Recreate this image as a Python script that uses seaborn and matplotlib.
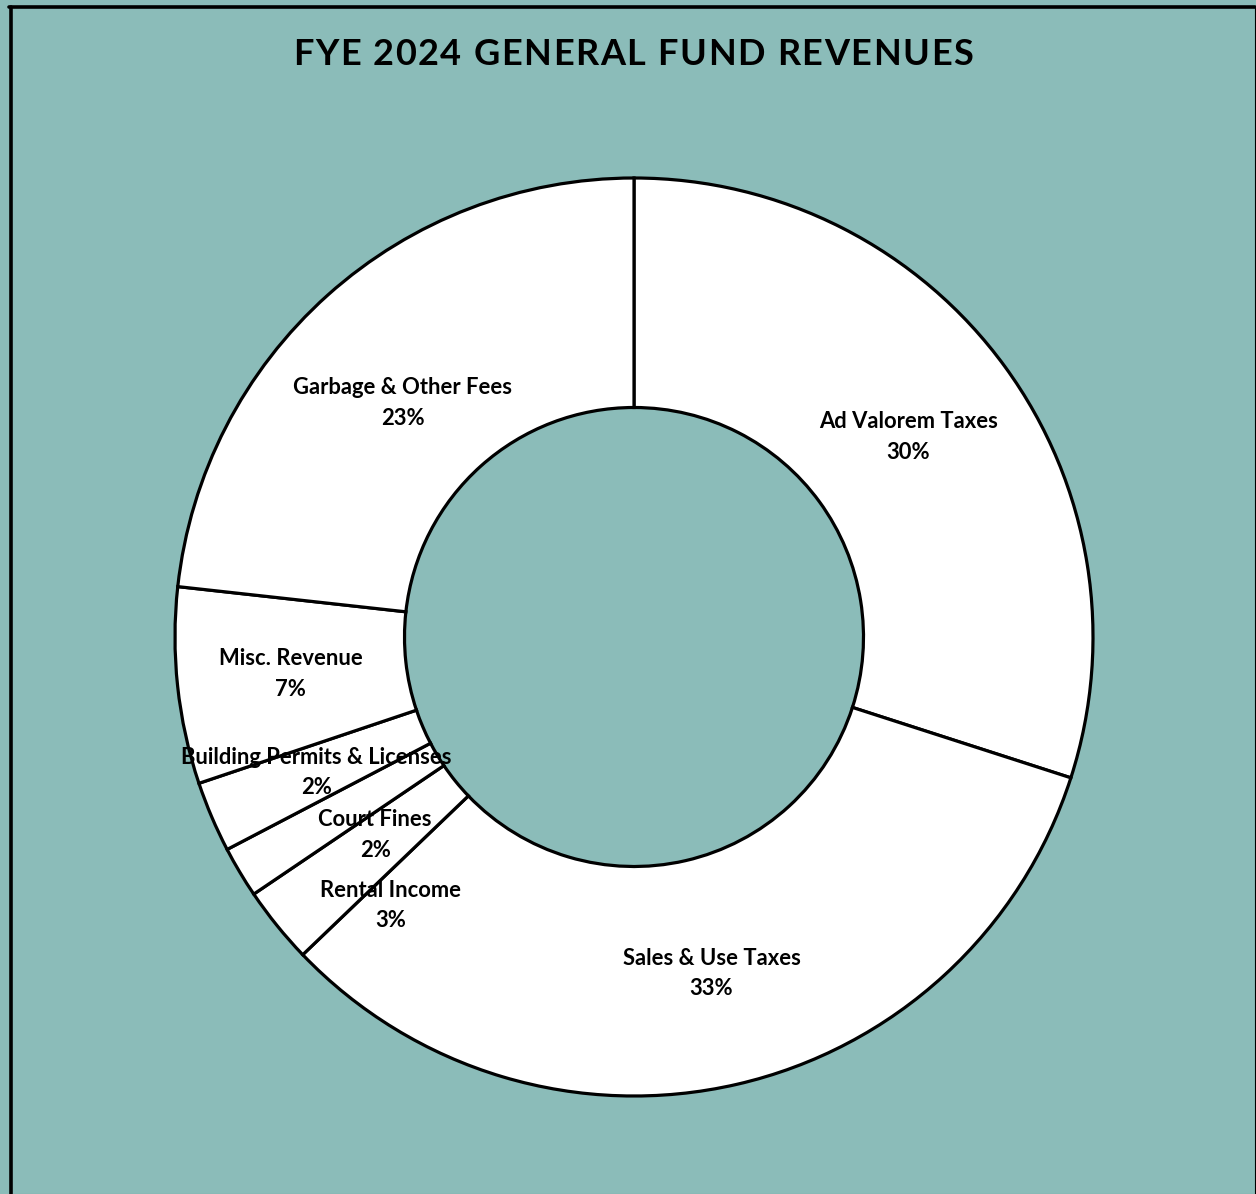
import numpy as np
import matplotlib
matplotlib.use("Agg")
import matplotlib.pyplot as plt
import seaborn as sns
from matplotlib.lines import Line2D

# data (share of general fund revenues, %), clockwise from 12 o'clock
categories = ["Ad Valorem Taxes", "Sales & Use Taxes", "Rental Income", "Court Fines",
              "Building Permits & Licenses", "Misc. Revenue", "Garbage & Other Fees"]
shares = [29.9, 32.8, 2.7, 1.8, 2.49, 6.9, 23.2]
title = "FYE 2024 GENERAL FUND REVENUES"

sns.set_style("white")
plt.rcParams["font.family"] = ["Lato", "DejaVu Sans"]

bg = "#8bbcb9"
W, H = 1256, 1194
fig = plt.figure(figsize=(W / 100, H / 100), dpi=100, facecolor=bg)

# donut centre (634, 637) px, outer radius 459 px
cx, cy, R = 634, 637, 459
ax = fig.add_axes([(cx - R) / W, (H - cy - R) / H, 2 * R / W, 2 * R / H])
ax.set_facecolor("none")
ax.pie(shares, startangle=90, counterclock=False, radius=1,
       colors=["white"] * len(shares),
       wedgeprops=dict(width=0.5, edgecolor="black", linewidth=2.3))
ax.set_xlim(-1, 1)
ax.set_ylim(-1, 1)
ax.set_aspect("auto")
ax.axis("off")

# labels at the middle of the ring, a few nudged apart like the original
nudge = {"Rental Income": (-8.9, 0.79), "Court Fines": (-6.6, 0.71),
         "Garbage & Other Fees": (-2.8, 0.717), "Ad Valorem Taxes": (0, 0.74)}
total = sum(shares)
cum = 0.0
for name, v in zip(categories, shares):
    mid = (cum + v / 2) / total * 360
    cum += v
    dang, r = nudge.get(name, (0.0, 0.752))
    a = np.deg2rad(mid + dang)
    x, y = r * np.sin(a), r * np.cos(a)
    pct = round(v / total * 100)
    ax.text(x, y, f"{name}\n{pct}%", ha="center", va="center", fontsize=15.8,
            fontweight="bold", linespacing=1.55, color="black", zorder=5)

# title with a little letter spacing
fs = 26
track = 1.6
renderer = fig.canvas.get_renderer()


def tw(s):
    t = fig.text(0, 0, s + "|", fontsize=fs, fontweight="bold")
    w = t.get_window_extent(renderer).width
    t.remove()
    return w


bar = tw("")
full = tw(title) - bar + track * (len(title) - 1)
x0 = 633 - full / 2
for i, ch in enumerate(title):
    x = x0 + tw(title[:i]) - bar + i * track
    fig.text(x / W, 1 - 65 / H, ch, ha="left", va="baseline",
             fontsize=fs, fontweight="bold", color="black")

# outer frame (left, top, right; faint bottom)
fig.add_artist(Line2D([10.5 / W, 10.5 / W], [0, 1 - 6.5 / H], color="black",
                      lw=2.6, transform=fig.transFigure))
fig.add_artist(Line2D([9 / W, 1255 / W], [1 - 6.5 / H, 1 - 6.5 / H], color="black",
                      lw=2.6, transform=fig.transFigure))
fig.add_artist(Line2D([1254.5 / W, 1254.5 / W], [0, 1 - 6.5 / H], color="black",
                      lw=0.8, transform=fig.transFigure))
fig.add_artist(Line2D([12 / W, 1254 / W], [0.5 / H, 0.5 / H], color="#6c9592",
                      lw=0.8, transform=fig.transFigure))

fig.savefig("out.png", dpi=100, facecolor=bg)
